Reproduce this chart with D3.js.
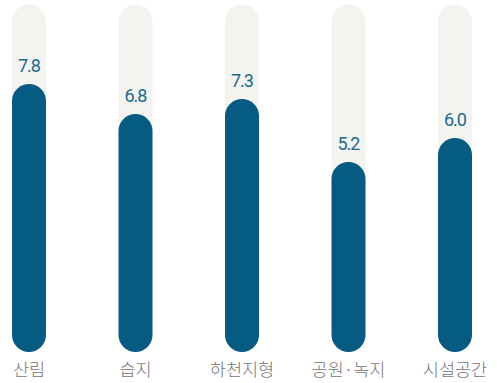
<!DOCTYPE html>
<html>
<head>
<meta charset="utf-8">
<script src="https://cdn.jsdelivr.net/npm/d3@7/dist/d3.min.js"></script>
<style>
  html, body { margin: 0; padding: 0; background: #ffffff; }
  svg { display: block; }
</style>
</head>
<body>
<script>
// Land-use categories and their scores
const categories = ["산림", "습지", "하천지형", "공원·녹지", "시설공간"];
const values = [7.8, 6.8, 7.3, 5.2, 6.0];
const valueLabels = ["7.8", "6.8", "7.3", "5.2", "6.0"];
const trackMax = 10.45;

const W = 497, H = 383;
const barW = 34;
const baseY = 318;        // value 0
const capExtra = barW;    // rounded foot below the zero line

const svg = d3.select("body").append("svg")
  .attr("width", W).attr("height", H);

// bar centres
const x = d3.scalePoint()
  .domain(categories)
  .range([29, 455]);

const y = d3.scaleLinear().domain([0, 10]).range([baseY, 18]);

const g = svg.append("g");

// background tracks
g.selectAll("rect.track")
  .data(categories)
  .join("rect")
  .attr("class", "track")
  .attr("x", d => x(d) - barW / 2)
  .attr("width", barW)
  .attr("y", y(trackMax))
  .attr("height", baseY + capExtra - y(trackMax))
  .attr("rx", barW / 2)
  .attr("fill", "#f3f3ef");

// value bars
g.selectAll("rect.bar")
  .data(values)
  .join("rect")
  .attr("class", "bar")
  .attr("x", (d, i) => x(categories[i]) - barW / 2)
  .attr("width", barW)
  .attr("y", d => y(d))
  .attr("height", d => baseY + capExtra - y(d))
  .attr("rx", barW / 2)
  .attr("fill", "#065b82");

// value labels
g.selectAll("text.val")
  .data(values)
  .join("text")
  .attr("class", "val")
  .attr("x", (d, i) => x(categories[i]))
  .attr("y", d => y(d) - 12)
  .attr("text-anchor", "middle")
  .attr("font-family", "Roboto, sans-serif")
  .attr("font-weight", 400)
  .attr("font-size", 18)
  .attr("letter-spacing", -1)
  .attr("fill", "#1b6b90")
  .text((d, i) => valueLabels[i]);

// category labels
g.selectAll("text.cat")
  .data(categories)
  .join("text")
  .attr("class", "cat")
  .attr("x", d => x(d))
  .attr("y", 376)
  .attr("text-anchor", "middle")
  .attr("font-family", "'Noto Sans CJK KR', sans-serif")
  .attr("font-weight", 300)
  .attr("font-size", 17.5)
  .attr("fill", "#767676")
  .text(d => d);
</script>
</body>
</html>
